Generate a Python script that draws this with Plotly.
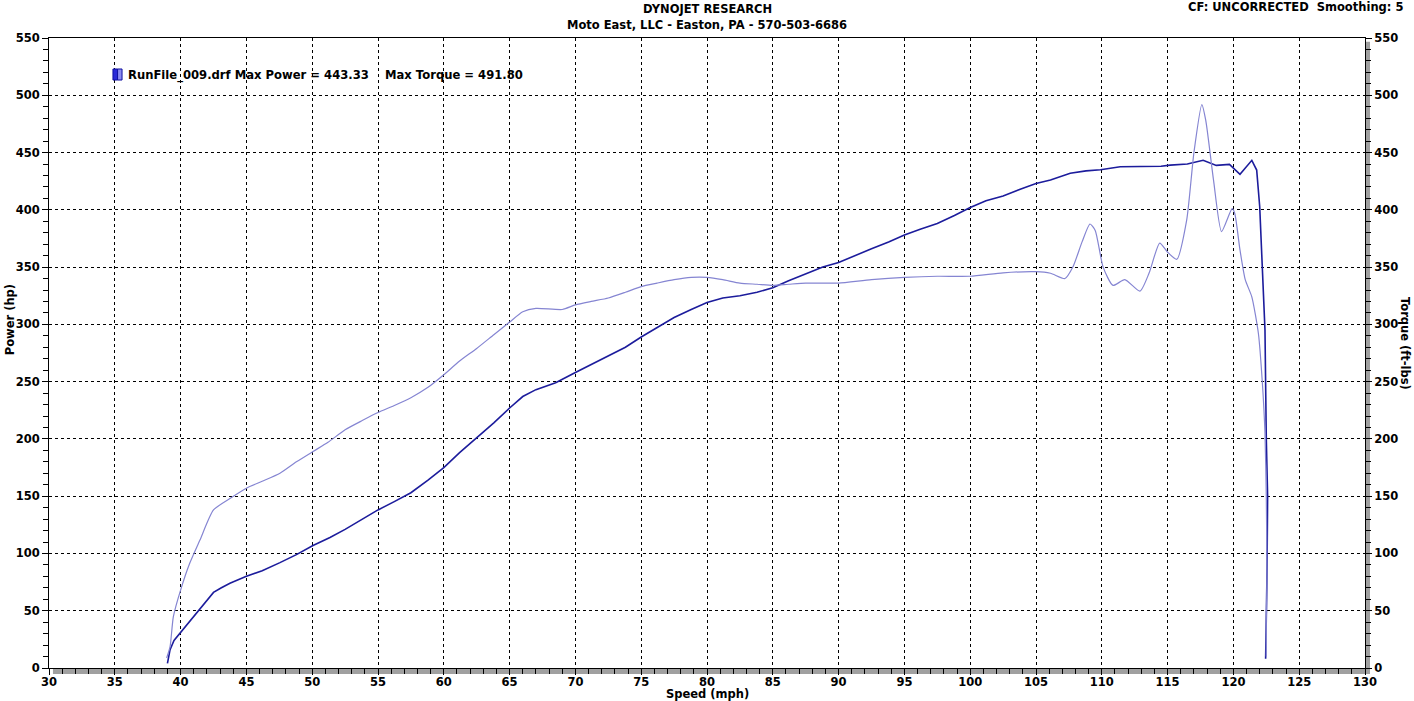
import plotly.graph_objects as go

# ---------------- data ----------------
power_mph = [39.0, 39.2, 39.5, 40.0, 40.6, 41.2, 41.8, 42.5, 43.1, 43.75, 45.0, 46.2, 47.55,
             48.8, 50.06, 51.35, 52.5, 54.0, 55.0, 56.2, 57.5, 58.8, 60.0, 61.2, 62.5, 63.8,
             65.0, 66.0, 67.0, 68.5, 70.0, 71.2, 72.5, 73.8, 75.0, 76.2, 77.5, 78.8, 80.0,
             81.2, 82.5, 83.8, 85.0, 86.2, 87.5, 88.8, 90.0, 91.2, 92.5, 93.8, 95.0, 96.2,
             97.5, 98.8, 100.0, 101.2, 102.5, 103.8, 105.0, 106.1, 107.6, 108.8, 109.9,
             111.4, 113.0, 114.5, 115.2, 116.5, 117.7, 118.7, 119.7, 120.5, 121.4, 121.77,
             122.0, 122.27, 122.4, 122.5, 122.6, 122.55, 122.5, 122.45]
power_hp = [4, 16, 24, 31, 40, 48, 57, 66, 70, 74, 80, 85, 92, 99, 107, 114, 121, 131, 138,
            145, 153, 164, 175, 188, 201, 214, 227, 237, 243, 249, 258, 265, 272, 280, 289,
            297, 306, 313, 319, 323, 325, 328, 332, 338, 344, 350, 354, 360, 366, 372, 378,
            383, 388, 395, 402, 408, 412, 418, 423, 426, 432, 434, 435, 437.6, 437.5, 438,
            439, 440, 443.3, 438.8, 439.7, 431, 443.2, 434.7, 402.7, 324, 295, 200, 150,
            80, 40, 8]

torque_mph = [38.94, 39.2, 39.45, 40.0, 40.7, 41.47, 42.5, 43.75, 45.0, 46.2, 47.55, 48.8,
              50.06, 51.2, 52.5, 53.8, 55.0, 56.2, 57.5, 58.8, 60.0, 61.2, 62.5, 63.8, 65.0,
              66.0, 67.0, 69.0, 70.0, 71.2, 72.5, 73.8, 75.0, 76.2, 77.5, 78.8, 80.0, 81.2,
              82.5, 83.8, 85.0, 86.2, 87.5, 88.8, 90.0, 92.5, 95.0, 97.5, 100.0, 102.5, 105.0,
              106.1, 107.2, 107.8, 108.5, 109.1, 109.5, 110.1, 110.85, 111.75, 112.9, 113.6,
              114.4, 115.0, 115.7, 116.45, 117.0, 117.6, 117.9, 118.5, 119.1, 119.9, 120.1,
              120.5, 120.9, 121.4, 121.9, 122.2, 122.4, 122.5, 122.55, 122.5, 122.5]
torque_lbft = [8.7, 18.6, 44.8, 68, 91.6, 111.7, 138, 148, 157, 163, 170, 180, 189, 197,
               208, 216, 223, 229, 236, 245, 256, 268, 279, 291, 302, 311, 314, 313, 317,
               320, 323, 328, 333, 336, 339, 341, 341, 339, 336, 335, 334, 335, 336, 336,
               336, 339, 341, 342, 342, 345, 346, 344.6, 340, 350, 372, 387.6, 382, 350, 334,
               339, 329, 345, 371, 363, 356.8, 391, 450, 491.8, 478, 425, 381, 401, 397, 365,
               339, 324, 292, 249, 205, 149, 80, 40, 10]

title_main = "DYNOJET RESEARCH"
title_sub = "Moto East, LLC - Easton, PA - 570-503-6686"
corner_text = "CF: UNCORRECTED  Smoothing: 5"
legend_text = "RunFile_009.drf Max Power = 443.33    Max Torque = 491.80"

FONT = "DejaVu Sans"
POWER_COLOR = "#1c1c9c"
TORQUE_COLOR = "#8585d2"

fig = go.Figure()
fig.add_trace(go.Scatter(x=torque_mph, y=torque_lbft, mode="lines", yaxis="y2",
                         line=dict(color=TORQUE_COLOR, width=1.2, shape="spline",
                                   smoothing=0.6),
                         showlegend=False, name="Torque"))
fig.add_trace(go.Scatter(x=power_mph, y=power_hp, mode="lines",
                         line=dict(color=POWER_COLOR, width=1.6), showlegend=False,
                         name="Power"))

tickfont = dict(family=FONT, size=11.5, color="black", weight="bold")

fig.update_layout(
    width=1414, height=701, autosize=False,
    margin=dict(l=49, r=49, t=38, b=33, pad=0, autoexpand=False),
    paper_bgcolor="white", plot_bgcolor="white",
    xaxis=dict(range=[30, 130], dtick=5, tick0=30, showgrid=True, gridcolor="black",
               griddash="3px,3px", gridwidth=1, zeroline=False, showline=True,
               linecolor="black", linewidth=1, mirror=True, ticks="outside", ticklen=6,
               tickcolor="black", tickfont=tickfont, automargin=False,
               ticklabelstandoff=-3,
               minor=dict(dtick=1, ticks="outside", ticklen=5, tickcolor="black",
                          showgrid=False)),
    yaxis=dict(range=[0, 550], dtick=50, tick0=0, showgrid=True, gridcolor="black",
               griddash="3px,3px", gridwidth=1, zeroline=False, showline=True,
               linecolor="black", linewidth=1, mirror=True, ticks="outside", ticklen=6,
               tickcolor="black", tickfont=tickfont, automargin=False,
               minor=dict(dtick=10, ticks="outside", ticklen=5, tickcolor="black",
                          showgrid=False)),
    yaxis2=dict(range=[0, 550], dtick=50, tick0=0, overlaying="y", side="right",
                showgrid=False, zeroline=False, showline=False, ticks="outside",
                ticklen=6, tickcolor="black", tickfont=tickfont, automargin=False,
                minor=dict(dtick=10, ticks="outside", ticklen=5, tickcolor="black")),
    showlegend=False,
)

# drop shadow of frame (bottom and right)
fig.add_shape(type="rect", xref="paper", yref="paper", x0=0.003, x1=1.0038,
              y0=-0.0095, y1=0.0, fillcolor="#a0a0a0", line=dict(width=0), layer="below")
fig.add_shape(type="rect", xref="paper", yref="paper", x0=1.0, x1=1.0038,
              y0=-0.0095, y1=0.994, fillcolor="#a0a0a0", line=dict(width=0), layer="below")

# legend icon
fig.add_shape(type="rect", xref="paper", yref="paper", x0=0.0486, x1=0.0521,
              y0=0.9333, y1=0.9508, fillcolor="#2a2ad8", line=dict(color="#1010a0", width=1))
fig.add_shape(type="rect", xref="paper", yref="paper", x0=0.0521, x1=0.0555,
              y0=0.9333, y1=0.9508, fillcolor="#8c8cf0", line=dict(color="#1010a0", width=1))

bold = lambda s: dict(family=FONT, size=s, color="black", weight="bold")

ann = [
    dict(text=title_main, x=0.5, y=1.046, xref="paper", yref="paper", showarrow=False,
         font=bold(11.5), xanchor="center", yanchor="middle"),
    dict(text=title_sub, x=0.5, y=1.0206, xref="paper", yref="paper", showarrow=False,
         font=bold(11.5), xanchor="center", yanchor="middle"),
    dict(text=corner_text, x=1.0304, y=1.049, xref="paper", yref="paper", showarrow=False,
         font=bold(11.5), xanchor="right", yanchor="middle"),
    dict(text=legend_text, x=0.0585, y=0.941, xref="paper", yref="paper", showarrow=False,
         font=bold(11.6), xanchor="left", yanchor="middle"),
    dict(text="Speed (mph)", x=0.5, y=-0.0413, xref="paper", yref="paper", showarrow=False,
         font=bold(11.5), xanchor="center", yanchor="middle"),
    dict(text="Power (hp)", x=-0.0296, y=0.552, xref="paper", yref="paper", showarrow=False,
         font=bold(11.5), textangle=-90, xanchor="center", yanchor="middle"),
    dict(text="Torque (ft-lbs)", x=1.0304, y=0.516, xref="paper", yref="paper",
         showarrow=False, font=bold(11.5), textangle=90, xanchor="center", yanchor="middle"),
]
fig.update_layout(annotations=ann)

fig.write_html("out.html", config={"displayModeBar": False},
               post_script="document.body.style.margin='0';document.body.style.overflow='hidden';")
